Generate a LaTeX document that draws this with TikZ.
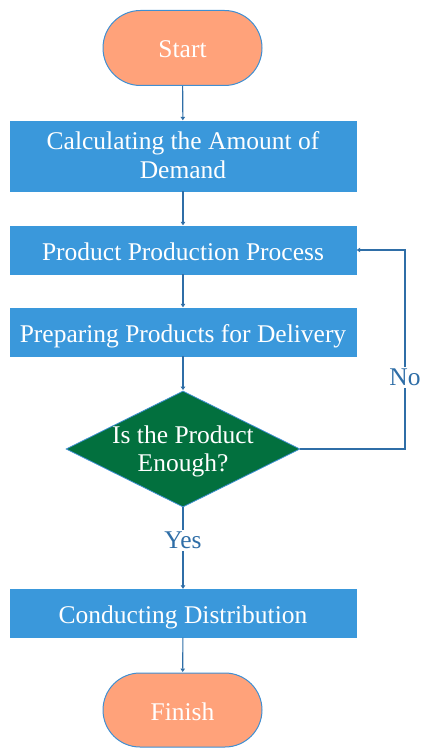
\documentclass[tikz,border=0pt]{standalone}
\usepackage{fontspec}
\setmainfont{Liberation Serif}
\usetikzlibrary{shapes.geometric,shapes.misc,arrows.meta}
\definecolor{boxblue}{HTML}{3A98DB}
\definecolor{edgeblue}{HTML}{3F8FD2}
\definecolor{salmon}{HTML}{FFA27A}
\definecolor{decgreen}{HTML}{02703E}
\definecolor{linkblue}{HTML}{2F6EA7}
\tikzset{
  every node/.style={font=\fontsize{25.5}{28.4}\selectfont},
  oneline/.style={text height=20pt, text depth=0pt},
  % two stacked lines: the box baseline sits on the lower line
  twoline/.style={text height=50pt, text depth=5.4pt},
  terminal/.style={rounded rectangle, fill=salmon, draw=edgeblue, line width=1pt,
    text=white, minimum width=159pt, minimum height=75pt, inner sep=0pt, oneline},
  process/.style={rectangle, fill=boxblue, draw=boxblue, text=white,
    minimum width=346pt, inner sep=0pt, align=center},
  decision/.style={diamond, fill=decgreen, draw=edgeblue, line width=0.8pt,
    minimum width=234pt, minimum height=116pt, inner sep=0pt},
  dectext/.style={text=white, align=center, inner sep=0pt,
    text height=50pt, text depth=4.6pt},
  tag/.style={fill=white, text=linkblue, inner xsep=1pt, inner ysep=2pt,
    text height=17pt, text depth=0pt},
  link/.style={draw=linkblue, line width=1.1pt, shorten >=0.5pt,
    -{Triangle[width=4.5pt,length=3.5pt]}},
}
\begin{document}
\begin{tikzpicture}[x=1pt,y=-1pt]
  \useasboundingbox (0,0) rectangle (420,749);

  \node[terminal] (start) at (182.5,48) {Start};
  \node[process, minimum height=70pt, twoline] (demand) at (183,156)
    {Calculating the Amount of\\Demand};
  \node[process, minimum height=48pt, oneline] (produce) at (183,250)
    {Product Production Process};
  \node[process, minimum height=48pt, oneline] (prepare) at (183,332)
    {Preparing Products for Delivery};
  \node[decision] (check) at (183,449) {};
  \node[dectext] (checktext) at (183,449) {Is the Product\\Enough?};
  \node[process, minimum height=48pt, oneline] (distribute) at (183,613.5)
    {Conducting Distribution};
  \node[terminal, minimum height=74pt] (finish) at (182.5,710) {Finish};

  \coordinate (loopbot) at (405,449);
  \coordinate (looptop) at (405,250);

  \draw[link] (start) -- (demand);
  \draw[link] (demand) -- (produce);
  \draw[link] (produce) -- (prepare);
  \draw[link] (prepare) -- (check);
  \draw[link] (check) -- (distribute);
  \node[tag] (yes) at (183,540) {Yes};
  \draw[link] (distribute) -- (finish);
  \draw[link] (check.east) -- (loopbot) -- (looptop) -- (produce.east);
  \node[tag] (no) at (405,377) {No};
\end{tikzpicture}
\end{document}
